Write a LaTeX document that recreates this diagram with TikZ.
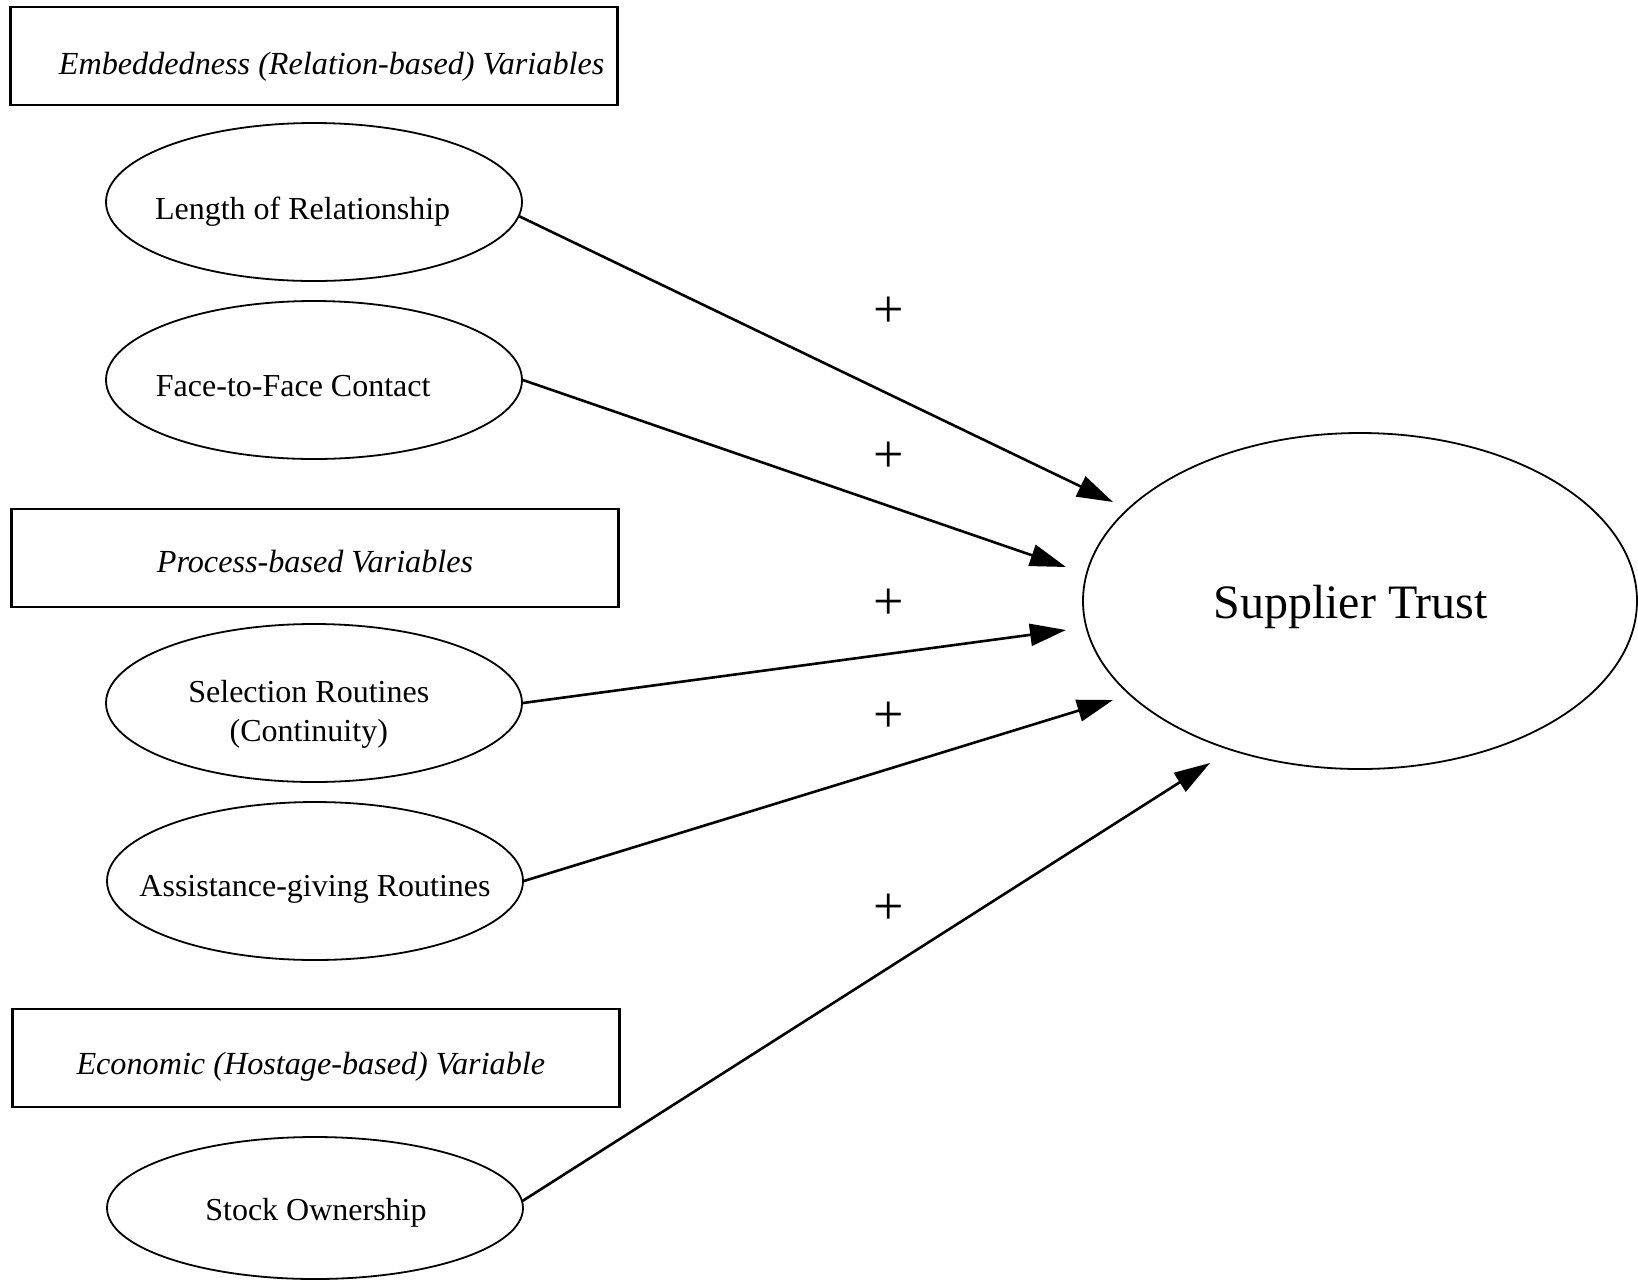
\documentclass[tikz,border=0pt]{standalone}
\usepackage{fontspec}
\setmainfont{Liberation Serif}
\usetikzlibrary{arrows.meta,shapes.geometric}
% shift a node's text by (#1 right, #2 down) without changing the node's size
\newcommand{\nudgetext}[3]{\raisebox{-#2}[\height][\depth]{\makebox[0pt]{\hspace*{#1}\hspace*{#1}#3}}}
\begin{document}
\begin{tikzpicture}[x=0.5pt,y=-0.5pt,
  grp/.style={draw, line width=1.1pt, minimum width=303.5pt, minimum height=49pt, inner sep=0pt,
    font=\fontsize{16.1}{19}\selectfont\itshape},
  var/.style={ellipse, draw, line width=0.9pt, minimum width=208pt, minimum height=79pt, inner sep=0pt,
    font=\fontsize{16}{19.5}\selectfont},
  lnk/.style={line width=1.3pt, -{Triangle[length=18pt,width=11pt]}},
  sgn/.style={font=\fontsize{27}{27}\selectfont, inner sep=0pt}]

\useasboundingbox (0,0) rectangle (1638,1281);

\node[grp] (g1) at (314,56) {\nudgetext{8.8pt}{5.2pt}{Embeddedness (Relation-based) Variables}};
\node[grp] (g2) at (315,558) {\nudgetext{0pt}{1.6pt}{Process-based Variables}};
\node[grp] (g3) at (316,1058) {\nudgetext{-2.6pt}{4.2pt}{Economic (Hostage-based) Variable}};

\node[var] (len) at (314,202) {\nudgetext{-5.7pt}{4.7pt}{Length of Relationship}};
\node[var] (f2f) at (314,380) {\nudgetext{-10.4pt}{3.1pt}{Face-to-Face Contact}};
\node[var] (sel) at (314,703) {\nudgetext{-2.6pt}{5.5pt}{\begin{tabular}{@{}c@{}}Selection Routines\\(Continuity)\end{tabular}}};
\node[var] (ast) at (315,881) {\nudgetext{0pt}{4.2pt}{Assistance-giving Routines}};
\node[var, minimum height=71pt] (stk) at (315,1208) {\nudgetext{0.5pt}{2.6pt}{Stock Ownership}};

\node[ellipse, draw, line width=0.9pt, minimum width=277pt, minimum height=168pt, inner sep=0pt,
  font=\fontsize{24}{28}\selectfont] (trust) at (1360,601) {\nudgetext{-4.7pt}{3.1pt}{Supplier Trust}};

\coordinate (t1) at (1113,502);
\coordinate (t2) at (1066,567);
\coordinate (t3) at (1066,630);
\coordinate (t4) at (1113,700);
\coordinate (t5) at (1210,763);

\draw[lnk] (len.-4) -- (t1);
\draw[lnk] (f2f.east) -- (t2);
\draw[lnk] (sel.east) -- (t3);
\draw[lnk] (ast.east) -- (t4);
\draw[lnk] (stk.2) -- (t5);

\node[sgn] (p1) at (889,312) {+};
\node[sgn] (p2) at (889,457) {+};
\node[sgn] (p3) at (889,604) {+};
\node[sgn] (p4) at (889,717) {+};
\node[sgn] (p5) at (889,909) {+};
\end{tikzpicture}
\end{document}
